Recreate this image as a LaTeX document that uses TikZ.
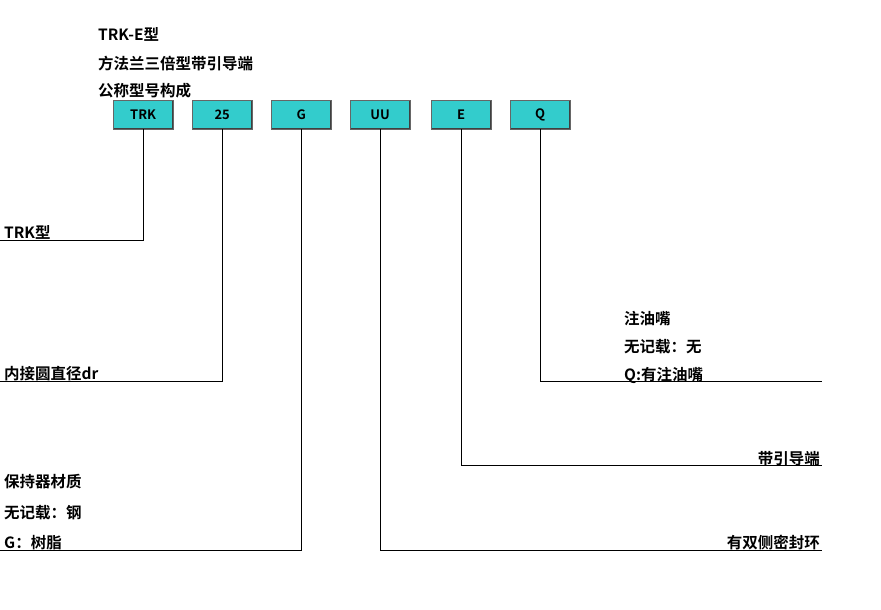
\documentclass[tikz,border=0pt]{standalone}
\usepackage{fontspec}
\setmainfont{Noto Sans CJK SC}[BoldFont={Noto Sans CJK SC Bold}]
\newfontfamily\cjk{Noto Sans CJK SC Bold}
\usetikzlibrary{positioning,calc}
\definecolor{boxteal}{RGB}{51,204,204}

\tikzset{
  codebox/.style={draw=black!60, fill=boxteal, minimum width=60pt, minimum height=29pt,
    inner sep=0pt, font=\fontsize{13}{13}\selectfont\bfseries,
    path picture={\draw[line width=2pt, black!75]
      (path picture bounding box.north east) |- (path picture bounding box.south west);}},
  lbl/.style={inner sep=0pt, font=\fontsize{15.5}{15.5}\cjk},
  lead/.style={line width=0.8pt}
}

\begin{document}
\begin{tikzpicture}[x=1pt, y=-1pt]
  \useasboundingbox (0,0) rectangle (881,610);
  % heading
  \node (head1) [lbl, anchor=base west] at (98,41) {TRK-E型};
  \node (head2) [lbl, anchor=base west] at (98,70) {方法兰三倍型带引导端};
  \node (head3) [lbl, anchor=base west] at (98,96) {公称型号构成};
  % code boxes
  \node (TRK) [codebox, anchor=north west] at (113,100) {TRK};
  \node (dr)  [codebox, anchor=north west] at (192,100) {25};
  \node (ret) [codebox, anchor=north west] at (271,100) {G};
  \node (seal)[codebox, anchor=north west] at (350,100) {UU};
  \node (guide)[codebox, anchor=north west] at (431,100) {E};
  \node (oil) [codebox, anchor=north west] at (510,100) {Q};
  % leader ends
  \coordinate (eTRK)  at (0,240);
  \coordinate (edr)   at (0,381);
  \coordinate (eret)  at (0,550);
  \coordinate (eseal) at (822,550);
  \coordinate (eguide)at (822,465);
  \coordinate (eoil)  at (822,381);
  \draw[lead] (TRK.south) |- (eTRK);
  \draw[lead] (dr.south) |- (edr);
  \draw[lead] (ret.south) |- (eret);
  \draw[lead] (seal.south) |- (eseal);
  \draw[lead] (guide.south) |- (eguide);
  \draw[lead] (oil.south) |- (eoil);
  % left labels
  \node (tTRK) [lbl, anchor=base west] at (4,238) {TRK型};
  \node (tdr)  [lbl, anchor=base west] at (4,379) {内接圆直径dr};
  \node (tret1)[lbl, anchor=base west] at (4,487) {保持器材质};
  \node (tret2)[lbl, anchor=base west] at (4,518) {无记载：钢};
  \node (tret3)[lbl, anchor=base west] at (4,548) {G：树脂};
  % right labels
  \node (toil1)[lbl, anchor=base west] at (624,324) {注油嘴};
  \node (toil2)[lbl, anchor=base west] at (624,352) {无记载：无};
  \node (toil3)[lbl, anchor=base west] at (624,380) {Q:有注油嘴};
  \node (tguide)[lbl, anchor=base east] at (820,464) {带引导端};
  \node (tseal)[lbl, anchor=base east] at (820,548) {有双侧密封环};
\end{tikzpicture}
\end{document}
